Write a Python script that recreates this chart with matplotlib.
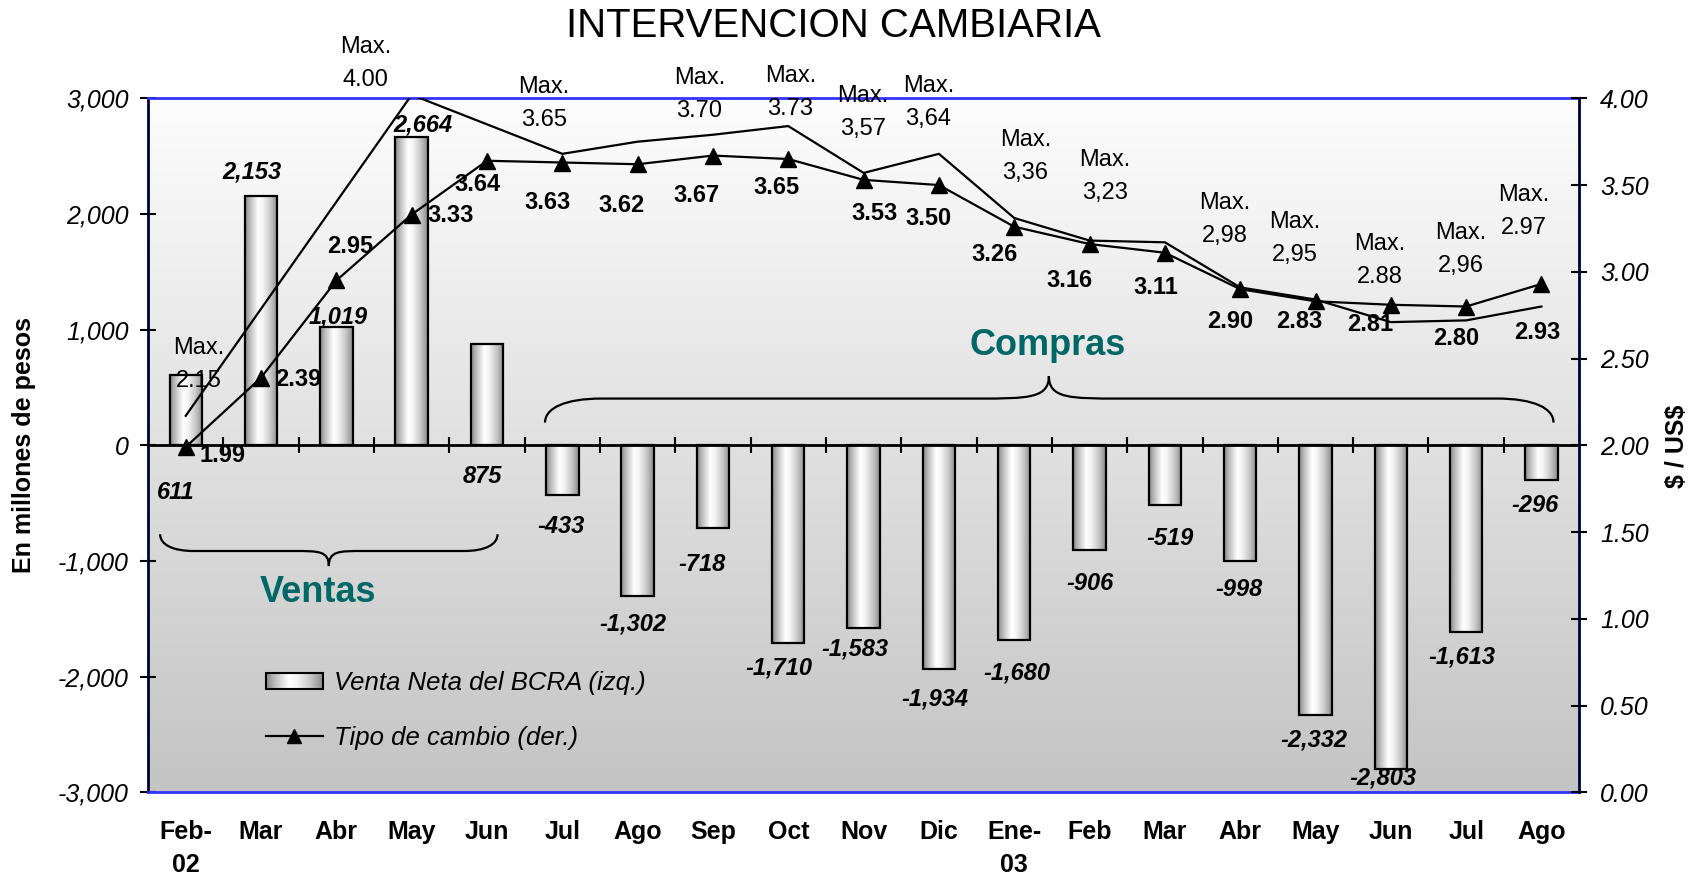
import numpy as np
import matplotlib
matplotlib.use('Agg')
import matplotlib.pyplot as plt
from matplotlib.colors import LinearSegmentedColormap, Normalize
from matplotlib.path import Path
from matplotlib.patches import PathPatch, Patch, Rectangle
from matplotlib.lines import Line2D
from matplotlib.legend_handler import HandlerBase
from matplotlib.image import BboxImage
from matplotlib.transforms import Bbox, TransformedBbox

plt.rcParams['font.family'] = ['Liberation Sans', 'DejaVu Sans']

# datos
meses = ['Feb-\n02', 'Mar', 'Abr', 'May', 'Jun', 'Jul', 'Ago', 'Sep', 'Oct', 'Nov',
         'Dic', 'Ene-\n03', 'Feb', 'Mar', 'Abr', 'May', 'Jun', 'Jul', 'Ago']
venta_neta = [611, 2153, 1019, 2664, 875, -433, -1302, -718, -1710, -1583,
              -1934, -1680, -906, -519, -998, -2332, -2803, -1613, -296]
tipo_cambio = [1.99, 2.39, 2.95, 3.33, 3.64, 3.63, 3.62, 3.67, 3.65, 3.53,
               3.50, 3.26, 3.16, 3.11, 2.90, 2.83, 2.81, 2.80, 2.93]
maximo = [2.17, None, None, 4.02, None, 3.68, 3.75, 3.79, 3.84, 3.57,
          3.68, 3.31, 3.18, 3.17, 2.91, 2.84, 2.71, 2.72, 2.80]
maximo_txt = ['2.15', None, None, '4.00', None, '3.65', None, '3.70', '3.73', '3,57',
              '3,64', '3,36', '3,23', None, '2,98', '2,95', '2.88', '2,96', '2.97']

# posicion de las etiquetas (x en meses, y en eje izq.)
pos_venta = [(-0.13, -409), (0.875, 2365), (2.03, 1109), (3.15, 2769), (3.94, -268),
             (4.98, -699), (5.93, -1543), (6.86, -1028), (7.87, -1929), (8.88, -1759),
             (9.94, -2190), (11.04, -1965), (12.0, -1197), (13.07, -802), (13.99, -1243),
             (14.98, -2546), (15.89, -2875), (16.94, -1834), (17.92, -521)]
pos_tc = [(0.49, -90), (1.49, 565), (2.19, 1719), (3.52, 1991), (3.87, 2253),
          (4.80, 2103), (5.78, 2075), (6.78, 2160), (7.84, 2225), (9.14, 2000),
          (9.86, 1963), (10.74, 1653), (11.74, 1428), (12.88, 1363), (13.87, 1072),
          (14.78, 1072), (15.72, 1044), (16.87, 922), (17.95, 979)]
pos_max = [(0.17, 697), None, None, (2.39, 3303), None, (4.76, 2956), None,
           (6.82, 3031), (8.03, 3049), (8.99, 2881), (9.86, 2966), (11.15, 2497),
           (12.20, 2328), None, (13.79, 1953), (14.72, 1785), (15.85, 1597),
           (16.93, 1691), (17.76, 2019)]

x = np.arange(len(meses))
verde = '#006666'
azul = '#3333ff'
marino = '#000033'

cmap_barra = LinearSegmentedColormap.from_list(
    'barra', [(0, '#8a8a8a'), (0.15, '#bdbdbd'), (0.4, '#ffffff'), (0.55, '#f4f4f4'),
              (0.8, '#c4c4c4'), (1, '#8c8c8c')])
grad = np.linspace(0, 1, 64).reshape(1, -1)


class HandlerBarra(HandlerBase):
    def create_artists(self, legend, orig_handle, xdescent, ydescent, width, height,
                       fontsize, trans):
        caja = Bbox.from_bounds(-xdescent, -ydescent, width, height)
        img = BboxImage(TransformedBbox(caja, trans), cmap=cmap_barra,
                        norm=Normalize(0, 1), interpolation='bilinear')
        img.set_data(grad)
        borde = Rectangle((-xdescent, -ydescent), width, height, transform=trans,
                          facecolor='none', edgecolor='black', linewidth=1.5)
        return [img, borde]


fig = plt.figure(figsize=(17, 8.77), dpi=100)
ax = fig.add_axes([0.0871, 0.0966, 0.8418, 0.7913])
ax.patch.set_facecolor('none')

# fondo degradado
fondo = LinearSegmentedColormap.from_list('fondo', ['#c4c4c4', '#fdfdfd'])
ax.imshow(np.linspace(0, 1, 256).reshape(-1, 1), extent=[-0.5, 18.5, -3000, 3000],
          aspect='auto', cmap=fondo, origin='lower', zorder=0)

# barras con degradado horizontal
barras = ax.bar(x, venta_neta, width=0.43, facecolor='none', edgecolor='black',
                linewidth=1.6, zorder=3)
for b in barras:
    y0, y1 = sorted([b.get_y(), b.get_y() + b.get_height()])
    im = ax.imshow(grad, extent=[b.get_x(), b.get_x() + b.get_width(), y0, y1],
                   aspect='auto', cmap=cmap_barra, vmin=0, vmax=1, zorder=2)
    im.set_clip_path(b)

ax.set_xlim(-0.5, 18.5)
ax.set_ylim(-3000, 3000)

yt = np.arange(-3000, 3001, 1000)
ax.set_yticks(yt, [f'{v:,.0f}' for v in yt], fontstyle='italic', fontsize=18)
ax.tick_params(axis='y', direction='inout', length=12, width=1.5, pad=8, colors='black')
ax.set_xticks(x, meses, fontweight='bold', fontsize=18, linespacing=1.45)
ax.tick_params(axis='x', length=0, pad=20)
ax.spines['left'].set_color(marino)
ax.spines['left'].set_linewidth(2)
ax.spines['right'].set_visible(False)
for s in ['top', 'bottom']:
    ax.spines[s].set_color(azul)
    ax.spines[s].set_linewidth(2)

# linea del cero con marcas entre meses
cero = ax.secondary_xaxis(0.5)
cero.set_xticks(np.arange(0.5, 18, 1))
cero.tick_params(axis='x', direction='inout', length=12, width=1.5,
                 labeltop=False, labelbottom=False)
for s in cero.spines.values():
    s.set_linewidth(2)
    s.set_color('black')
cero.set_zorder(4)

# eje derecho
ax2 = ax.twinx()
ax2.set_ylim(0, 4)
yt2 = np.arange(0, 4.01, 0.5)
ax2.set_yticks(yt2, [f'{v:.2f}' for v in yt2], fontstyle='italic', fontsize=18)
ax2.tick_params(axis='y', direction='inout', length=12, width=1.5, pad=9)
for s in ['top', 'bottom', 'left']:
    ax2.spines[s].set_visible(False)
ax2.spines['right'].set_color(marino)
ax2.spines['right'].set_linewidth(2)

mx = [i for i, v in enumerate(maximo) if v is not None]
my = [v for v in maximo if v is not None]
ax2.plot(mx, my, color='black', lw=1.6, zorder=5)
ax2.plot(x, tipo_cambio, color='black', lw=1.6, marker='^', markersize=11, zorder=6)

# etiquetas
for v, (px, py) in zip(venta_neta, pos_venta):
    ax.text(px, py, f'{v:,}', ha='center', va='center', fontsize=17,
            fontweight='bold', fontstyle='italic', zorder=7)
for v, (px, py) in zip(tipo_cambio, pos_tc):
    ax.text(px, py, f'{v:.2f}', ha='center', va='center', fontsize=17,
            fontweight='bold', zorder=7)
for t, p in zip(maximo_txt, pos_max):
    if t is None:
        continue
    ax.text(p[0], p[1], 'Max.\n' + t, ha='center', va='center', fontsize=17,
            linespacing=1.65, zorder=7)


def llave(x0, x1, xm, y_ext, y_med, y_pico, w1, w2):
    verts = [(x0, y_ext),
             (x0, y_ext + 0.6 * (y_med - y_ext)), (x0 + 0.35 * w1, y_med), (x0 + w1, y_med),
             (xm - w2, y_med),
             (xm - 0.3 * w2, y_med), (xm, y_med), (xm, y_pico),
             (xm, y_med), (xm + 0.3 * w2, y_med), (xm + w2, y_med),
             (x1 - w1, y_med),
             (x1 - 0.35 * w1, y_med), (x1, y_ext + 0.6 * (y_med - y_ext)), (x1, y_ext)]
    codes = [Path.MOVETO] + [Path.CURVE4] * 3 + [Path.LINETO] + [Path.CURVE4] * 6 + \
            [Path.LINETO] + [Path.CURVE4] * 3
    ax.add_patch(PathPatch(Path(verts, codes), facecolor='none', edgecolor='black',
                           lw=1.6, zorder=5))


llave(-0.34, 4.14, 1.9, -769, -914, -1044, 0.45, 0.45)
llave(4.77, 18.16, 11.46, 196, 404, 599, 0.75, 0.95)
ax.text(1.76, -1271, 'Ventas', color=verde, fontsize=26, fontweight='bold',
        ha='center', va='center')
ax.text(11.44, 859, 'Compras', color=verde, fontsize=26, fontweight='bold',
        ha='center', va='center')

# leyenda
h_barra = Patch(facecolor='#e2e2e2', edgecolor='black', linewidth=1.5)
h_linea = Line2D([], [], color='black', lw=1.6, marker='^', markersize=10)
ax.legend([h_barra, h_linea], ['Venta Neta del BCRA (izq.)', 'Tipo de cambio (der.)'],
          handler_map={h_barra: HandlerBarra()},
          loc='center left', bbox_to_anchor=(0.0825, 0.118), frameon=False,
          prop={'style': 'italic', 'size': 18.5}, handlelength=2.2, handleheight=0.6,
          handletextpad=0.45, labelspacing=1.2, borderpad=0, borderaxespad=0)

fig.text(0.49, 0.970, 'INTERVENCION CAMBIARIA', ha='center', va='center', fontsize=29)
fig.text(0.014, 0.493, 'En millones de pesos', rotation=90, ha='center', va='center',
         fontsize=18, fontweight='bold')
fig.text(0.9865, 0.491, r'\$ / US\$', rotation=90, ha='center', va='center',
         fontsize=18, fontweight='bold')

fig.savefig('out.png', dpi=100)
